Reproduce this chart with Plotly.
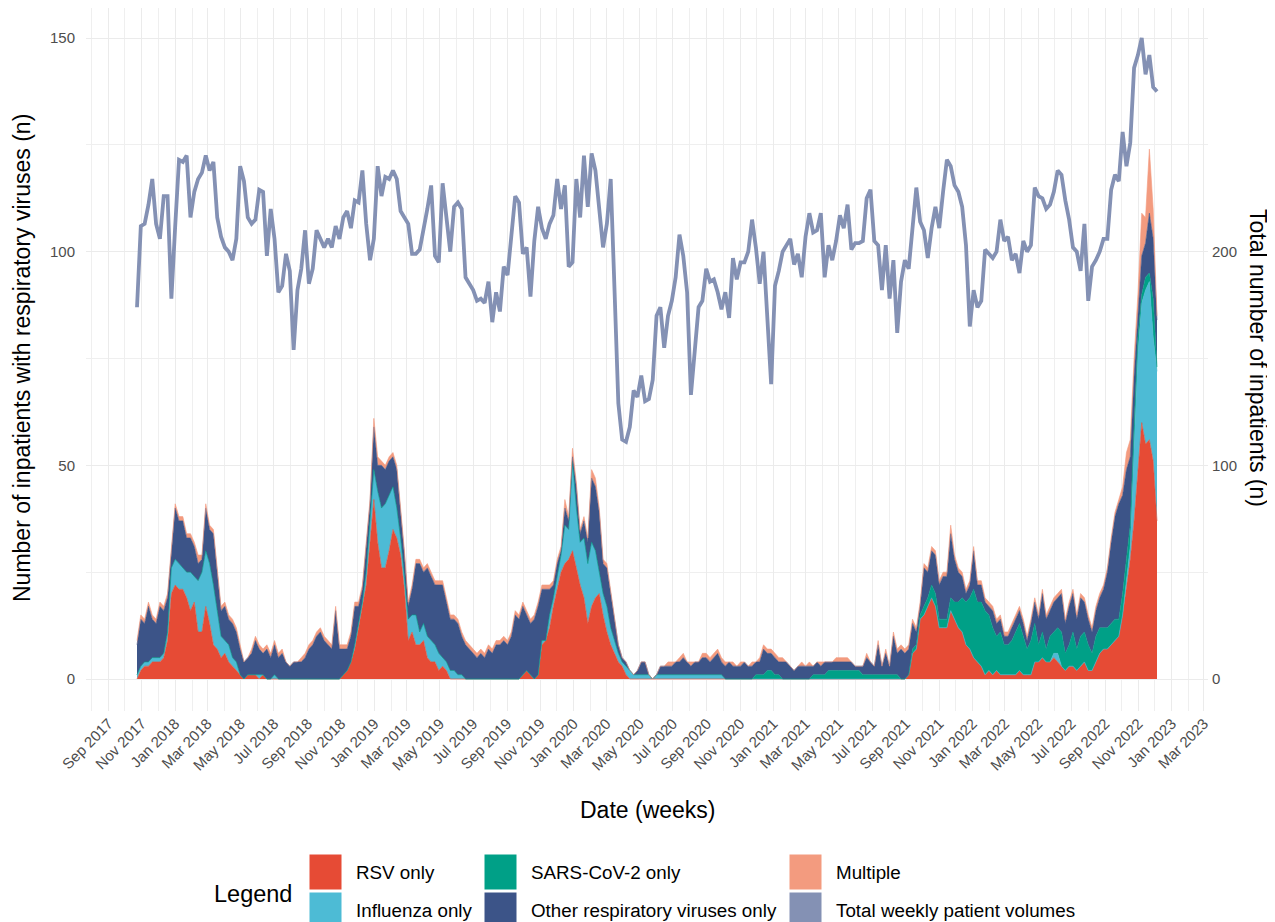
import pandas as pd
import plotly.graph_objects as go

# ---------------- data (weekly) ----------------
week_start = "2017-10-23"

rsv = [0,2,3,3,4,4,4,5,9,20,
       22,21,21,19,16,18,11,11,17,13,
       8,7,5,6,4,3,2,1,0,1,
       1,1,0,1,0,0,0,0,0,0,
       0,0,0,0,0,0,0,0,0,0,
       0,0,0,0,1,2,4,7,12,17,
       22,32,42,32,26,26,30,35,33,29,
       21,9,11,8,8,9,5,4,4,2,
       3,2,0,0,0,0,0,0,0,0,
       0,0,0,0,0,0,0,0,0,0,
       0,1,2,1,0,1,8,9,12,17,
       21,25,27,28,30,26,22,19,13,17,
       19,20,15,11,8,6,4,3,1,0,
       0,0,0,0,0,0,0,0,0,0,
       0,0,0,0,0,0,0,0,0,0,
       0,0,0,0,0,0,0,0,0,0,
       0,0,0,0,0,0,0,0,0,0,
       0,0,0,0,0,0,0,0,0,0,
       0,0,0,0,0,0,0,0,0,0,
       0,0,0,0,0,0,0,0,0,0,
       0,0,1,6,7,14,15,17,19,17,
       12,12,12,16,14,12,11,8,7,5,
       4,3,1,2,1,2,1,1,1,1,
       1,2,1,1,1,4,4,5,4,4,
       5,4,3,2,3,3,2,3,4,2,
       2,4,6,7,7,8,9,10,15,22,
       28,37,49,60,55,56,51,37]

influenza = [1,1,1,1,1,1,1,1,2,6,
             6,6,5,6,9,6,12,14,13,14,
             14,9,5,3,4,2,2,0,0,0,
             0,0,1,0,0,0,1,0,0,0,
             0,0,0,0,0,0,0,0,0,0,
             0,0,0,0,0,0,0,1,1,1,
             3,5,7,12,14,15,13,10,7,4,
             3,5,4,7,3,4,5,5,4,4,
             2,2,2,2,1,1,0,0,0,0,
             0,0,0,0,0,0,0,0,0,0,
             0,0,0,0,0,0,1,0,3,2,
             3,4,9,7,21,14,10,14,14,15,
             11,5,5,6,4,3,2,1,2,2,
             1,1,1,1,1,0,1,1,1,1,
             1,1,1,1,1,1,1,1,1,1,
             1,1,1,1,0,0,0,0,0,0,
             0,0,0,0,0,0,0,0,0,0,
             0,0,0,0,0,0,0,0,0,0,
             0,0,0,0,0,0,0,0,0,0,
             0,0,0,0,0,0,0,0,0,0,
             0,0,0,0,0,0,0,0,0,0,
             0,0,0,0,0,0,0,0,0,0,
             0,0,0,0,0,0,0,0,0,0,
             0,0,0,0,0,0,0,0,0,0,
             1,2,0,0,0,0,0,0,0,0,
             0,0,0,0,0,0,0,0,0,1,
             3,17,27,28,36,37,29,35]

sars_cov2 = [0,0,0,0,0,0,0,0,0,0,
             0,0,0,0,0,0,0,0,0,0,
             0,0,0,0,0,0,0,0,0,0,
             0,0,0,0,0,0,0,0,0,0,
             0,0,0,0,0,0,0,0,0,0,
             0,0,0,0,0,0,0,0,0,0,
             0,0,0,0,0,0,0,0,0,0,
             0,0,0,0,0,0,0,0,0,0,
             0,0,0,0,0,0,0,0,0,0,
             0,0,0,0,0,0,0,0,0,0,
             0,0,0,0,0,0,0,0,0,0,
             0,0,0,0,0,0,0,0,0,0,
             0,0,0,0,0,0,0,0,0,0,
             0,0,0,0,0,0,0,0,0,0,
             0,0,0,0,0,0,0,0,0,0,
             0,0,0,0,0,0,0,0,0,0,
             0,0,1,1,1,2,2,1,1,0,
             0,0,0,0,0,0,0,1,1,1,
             1,2,2,2,2,2,2,2,2,2,
             1,1,1,1,1,1,1,1,1,1,
             0,0,0,1,1,1,2,2,3,3,
             2,2,2,3,4,6,8,10,12,16,
             14,15,15,13,11,8,10,7,7,8,
             10,11,9,6,8,9,4,6,3,6,
             5,6,8,4,5,8,5,7,7,6,
             4,6,6,5,5,5,5,4,5,5,
             5,5,4,2,3,2,9,1]

other_viruses = [7,11,9,13,9,8,12,10,8,3,
                 12,10,11,8,8,7,4,3,10,8,
                 12,9,6,8,6,8,7,6,4,4,
                 5,8,6,5,7,5,7,5,6,4,
                 3,4,4,4,5,7,8,10,11,9,
                 8,7,16,7,6,5,6,9,4,3,
                 6,4,10,6,10,8,8,7,9,6,
                 5,3,6,12,16,12,16,15,14,16,
                 17,14,12,12,12,9,8,7,6,5,
                 6,5,7,6,8,8,9,8,10,15,
                 14,16,13,12,14,16,12,12,6,3,
                 3,1,4,2,1,5,2,4,5,15,
                 15,14,7,9,8,4,2,1,1,0,
                 0,1,3,3,0,0,0,2,2,2,
                 2,3,3,4,3,2,3,3,4,4,
                 3,4,5,3,3,4,3,3,3,4,
                 3,3,3,3,6,4,4,4,3,4,
                 4,3,2,3,3,3,3,2,3,2,
                 3,2,2,2,2,2,2,2,1,1,
                 2,4,3,2,7,2,5,2,9,5,
                 7,6,6,6,3,2,9,6,8,9,
                 8,10,10,15,10,7,5,2,3,9,
                 4,4,2,2,4,3,3,2,2,3,
                 3,3,3,2,4,5,6,9,7,6,
                 7,7,9,7,9,9,7,9,7,6,
                 5,6,7,9,13,19,24,27,23,21,
                 16,12,6,9,8,14,14,11]

multiple = [1,1,1,1,1,1,1,1,1,1,
            1,1,1,1,1,1,2,1,1,1,
            1,1,1,1,1,1,1,1,0,0,
            1,1,1,1,1,1,1,1,1,0,
            0,0,0,1,1,1,1,1,1,1,
            1,1,1,1,1,1,1,1,1,1,
            1,1,2,2,1,1,1,1,1,1,
            1,1,1,1,1,1,1,1,1,1,
            1,1,1,1,1,1,1,1,1,1,
            1,1,1,1,1,1,1,1,1,1,
            1,1,1,1,1,1,1,1,1,1,
            1,1,2,1,2,1,1,1,1,2,
            2,1,1,1,1,1,0,0,0,0,
            0,0,0,0,0,0,0,0,0,1,
            1,0,1,1,0,1,0,0,1,1,
            1,1,1,1,1,0,1,0,1,0,
            0,1,0,1,1,1,1,1,1,1,
            0,0,0,0,1,0,1,0,0,1,
            0,0,0,1,1,1,1,0,0,0,
            0,1,0,0,1,0,1,0,1,1,
            1,1,1,1,1,1,1,1,1,1,
            1,1,1,2,1,1,1,1,1,1,
            1,1,1,1,1,1,1,1,1,1,
            1,1,1,1,1,1,1,1,1,1,
            1,1,1,1,1,1,1,1,1,1,
            1,1,1,1,1,1,1,1,2,4,
            4,4,4,10,6,15,7,1]

total_weekly = [174,212,213,222,234,213,206,226,226,178,
                212,243,242,245,216,228,234,237,245,238,
                242,216,207,202,200,196,206,240,233,216,
                213,215,229,228,198,220,206,181,184,199,
                191,154,182,192,210,185,192,210,206,202,
                206,202,212,206,216,219,211,224,223,238,
                213,196,206,240,226,235,234,238,234,219,
                216,213,199,199,201,210,220,231,198,195,
                232,216,200,221,223,220,188,185,182,177,
                178,176,186,167,181,172,193,189,207,226,
                223,199,202,179,205,221,211,206,213,217,
                234,220,231,193,195,234,216,245,221,246,
                238,221,202,213,234,182,129,112,111,118,
                135,132,142,130,131,140,170,174,155,170,
                177,188,208,198,181,133,156,174,177,192,
                186,187,181,173,181,169,197,187,195,195,
                200,215,202,185,200,165,138,184,191,200,
                203,206,194,199,188,207,218,209,210,218,
                188,203,196,205,217,211,222,201,204,204,
                205,225,229,205,203,182,203,178,196,162,
                186,196,192,213,230,214,210,197,211,221,
                211,228,243,240,231,228,221,203,165,182,
                174,177,201,199,197,200,215,205,207,196,
                199,190,205,200,203,230,226,225,220,222,
                228,238,236,224,215,202,200,191,213,177,
                193,196,200,206,206,229,236,233,256,240,
                251,286,292,300,283,292,277,275]

series_names = ["RSV only", "Influenza only", "SARS-CoV-2 only",
                "Other respiratory viruses only", "Multiple"]
series_colors = ["#E64B35", "#4DBBD5", "#00A087", "#3C5488", "#F39B7F"]
line_name = "Total weekly patient volumes"
line_color = "#8491B4"

left_ticks = [0, 50, 100, 150]
left_minor = [25, 75, 125]
right_ticks = [0, 100, 200]

# ---------------- figure ----------------
n = min(len(total_weekly), len(rsv), len(influenza), len(sars_cov2),
        len(other_viruses), len(multiple))
dates = pd.date_range(week_start, periods=n, freq="7D")
pad = (dates[-1] - dates[0]) * 0.05
x_range = [dates[0] - pad, dates[-1] + pad]

fig = go.Figure()
for name, vals, col in zip(series_names,
                           [rsv, influenza, sars_cov2, other_viruses, multiple],
                           series_colors):
    fig.add_trace(go.Scatter(
        x=dates, y=vals[:n], name=name, stackgroup="resp", mode="lines",
        line=dict(color=col, width=0.6), fillcolor=col, showlegend=False))

fig.add_trace(go.Scatter(
    x=dates, y=total_weekly[:n], name=line_name, yaxis="y2", mode="lines",
    line=dict(color=line_color, width=3.8), showlegend=False))

FONT = "Liberation Sans, Arial, sans-serif"
GRID = "#EBEBEB"

# The page body adds an 8px offset; work in screen pixels and convert.
OFF = 8
W, H = 1275 - OFF, 922 - OFF
SL, SR, ST, SB = 86, 1208, 8, 711          # plot area in screen pixels
Y0_PIX, PIX_PER_UNIT = 679, 641 / 150        # left axis: 0 at y=679, 150 at y=38
y_lo = (Y0_PIX - SB) / PIX_PER_UNIT
y_hi = (Y0_PIX - ST) / PIX_PER_UNIT


def px(x):
    return (x - SL) / (SR - SL)


def py(y):
    return (SB - y) / (SB - ST)


fig.update_layout(
    width=W, height=H,
    margin=dict(l=SL - OFF, r=W - (SR - OFF), t=ST - OFF, b=H - (SB - OFF),
                pad=0, autoexpand=False),
    paper_bgcolor="white", plot_bgcolor="white",
    font=dict(family=FONT, color="#4D4D4D"),
    showlegend=False,
    xaxis=dict(
        type="date", range=x_range, tick0="2017-09-01", dtick="M2",
        tickformat="%b %Y", tickangle=-45,
        tickfont=dict(size=15, color="#4D4D4D", family=FONT),
        showgrid=True, gridcolor=GRID, gridwidth=1.2, zeroline=False,
        showline=False, ticks="", automargin=False,
        minor=dict(dtick="M1", tick0="2017-08-01", showgrid=True,
                   gridcolor="#EFEFEF", gridwidth=0.8),
    ),
    yaxis=dict(
        range=[y_lo, y_hi], tickvals=left_ticks,
        tickfont=dict(size=15, color="#4D4D4D", family=FONT),
        showgrid=True, gridcolor=GRID, gridwidth=1.2, zeroline=False,
        showline=False, ticks="", ticklabelstandoff=10, automargin=False,
        minor=dict(tickvals=left_minor, showgrid=True,
                   gridcolor="#EFEFEF", gridwidth=0.8),
    ),
    yaxis2=dict(
        overlaying="y", side="right", range=[2 * y_lo, 2 * y_hi],
        tickvals=right_ticks,
        tickfont=dict(size=15, color="#4D4D4D", family=FONT),
        showgrid=False, zeroline=False, showline=False, ticks="",
        ticklabelstandoff=3, automargin=False,
    ),
)

ann = []
shapes = []
TITLE_SIZE = 23
# axis titles
ann.append(dict(text="Date (weeks)", x=px(647), y=py(810), xref="paper",
                yref="paper", showarrow=False, xanchor="center",
                yanchor="middle",
                font=dict(size=TITLE_SIZE, color="black", family=FONT)))
ann.append(dict(text="Number of inpatients with respiratory viruses (n)",
                x=px(22), y=py(358), xref="paper", yref="paper",
                showarrow=False, textangle=-90, xanchor="center",
                yanchor="middle",
                font=dict(size=TITLE_SIZE, color="black", family=FONT)))
ann.append(dict(text="Total number of inpatients (n)",
                x=px(1258), y=py(358), xref="paper", yref="paper",
                showarrow=False, textangle=90, xanchor="center",
                yanchor="middle",
                font=dict(size=TITLE_SIZE, color="black", family=FONT)))

# legend (drawn manually to match the ggplot guide)
ann.append(dict(text="Legend", x=px(294), y=py(894), xref="paper",
                yref="paper", showarrow=False, xanchor="right",
                yanchor="middle",
                font=dict(size=23.5, color="black", family=FONT)))
legend_items = [
    (series_names[0], series_colors[0], 309, 854),
    (series_names[1], series_colors[1], 309, 892),
    (series_names[2], series_colors[2], 484, 854),
    (series_names[3], series_colors[3], 484, 892),
    (series_names[4], series_colors[4], 789, 854),
    (line_name, line_color, 789, 892),
]
for name, col, kx, ky in legend_items:
    shapes.append(dict(type="rect", xref="paper", yref="paper",
                       x0=px(kx), x1=px(kx + 33), y0=py(ky), y1=py(ky + 36),
                       fillcolor=col, line=dict(color="white", width=1)))
    ann.append(dict(text=name, x=px(kx + 45), y=py(ky + 18), xref="paper",
                    yref="paper", showarrow=False, xanchor="left",
                    yanchor="middle",
                    font=dict(size=18.8, color="black", family=FONT)))

fig.update_layout(annotations=ann, shapes=shapes)
fig.write_html("out.html")
